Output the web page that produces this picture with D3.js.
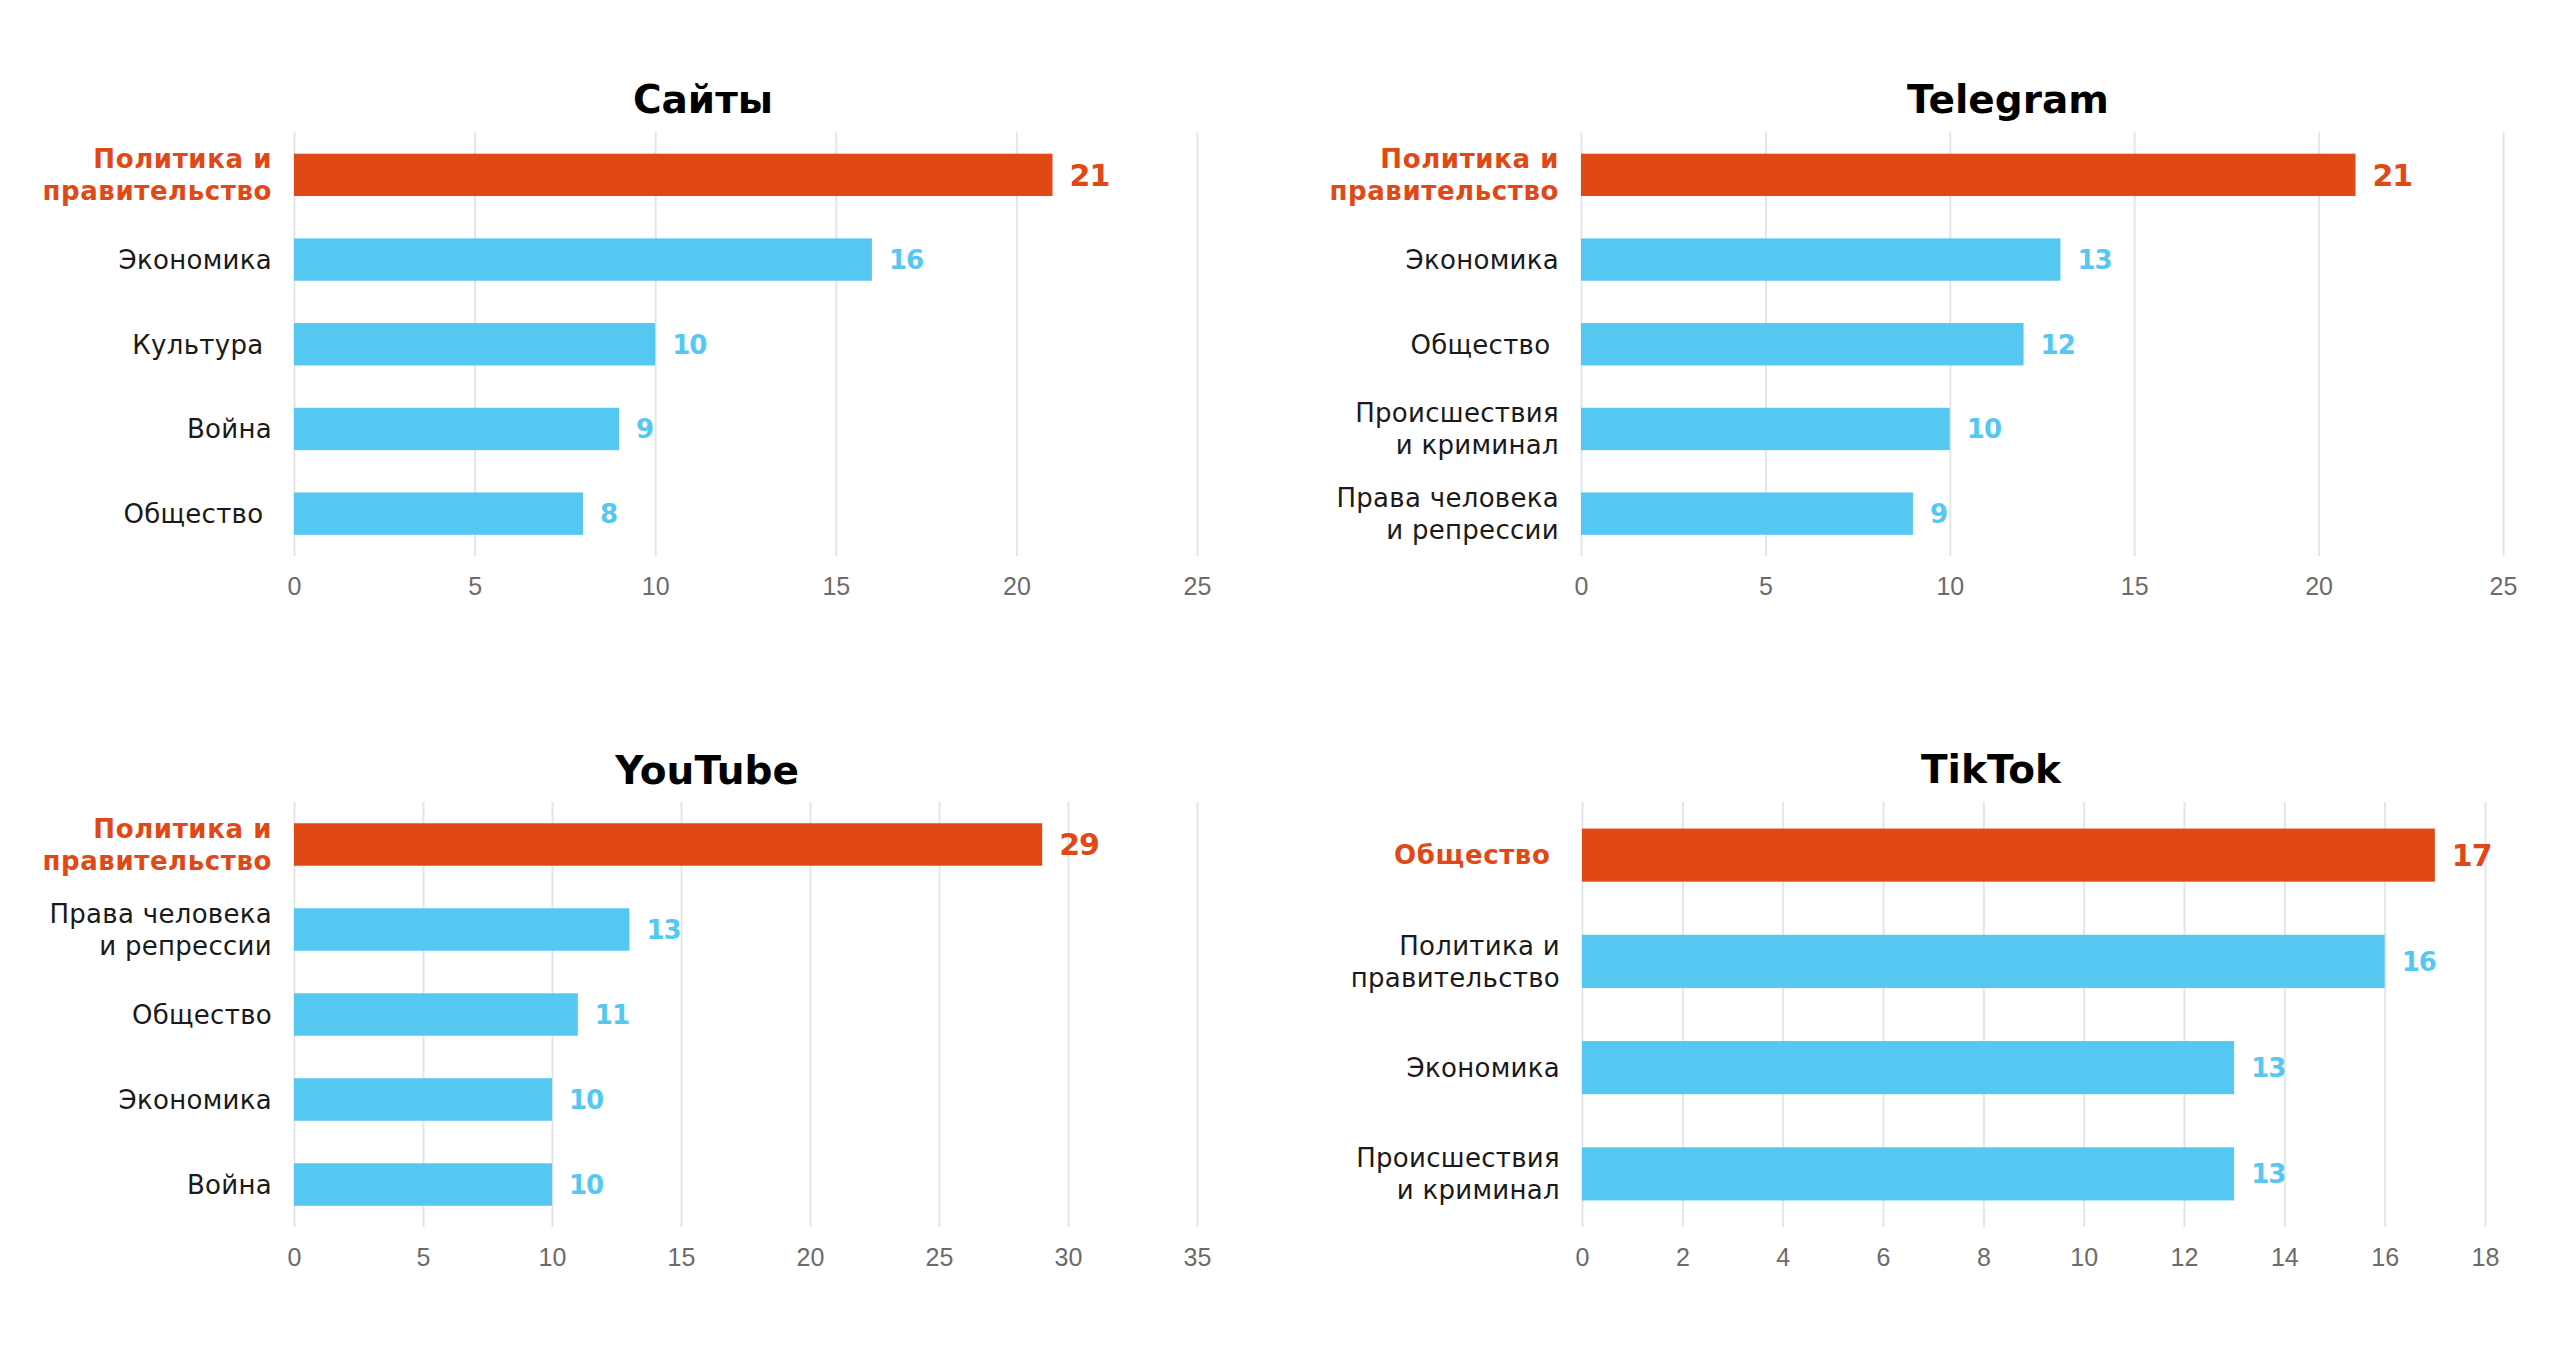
<!DOCTYPE html>
<html>
<head>
<meta charset="utf-8">
<script src="https://cdn.jsdelivr.net/npm/d3@7"></script>
<style>
  body { margin: 0; background: #fff; }
  svg { display: block; font-family: "DejaVu Sans", sans-serif; }
  .tick text { fill: #6b6b6b; font-size: 25px; }
  .tick line { stroke: #e2e5ec; stroke-width: 2; }
  .cat { white-space: pre; }
</style>
</head>
<body>
<div id="chart"></div>
<script>
// data, top item is the highlighted one in every panel
var sitesCats = ["Политика и\nправительство", "Экономика", "Культура ", "Война", "Общество "];
var sitesValues = [21, 16, 10, 9, 8];
var sitesTicks = [0, 5, 10, 15, 20, 25];

var telegramCats = ["Политика и\nправительство", "Экономика", "Общество ", "Происшествия\nи криминал", "Права человека\nи репрессии"];
var telegramValues = [21, 13, 12, 10, 9];
var telegramTicks = [0, 5, 10, 15, 20, 25];

var youtubeCats = ["Политика и\nправительство", "Права человека\nи репрессии", "Общество", "Экономика", "Война"];
var youtubeValues = [29, 13, 11, 10, 10];
var youtubeTicks = [0, 5, 10, 15, 20, 25, 30, 35];

var tiktokCats = ["Общество ", "Политика и\nправительство", "Экономика", "Происшествия\nи криминал"];
var tiktokValues = [17, 16, 13, 13];
var tiktokTicks = [0, 2, 4, 6, 8, 10, 12, 14, 16, 18];

var ORANGE = "#e04916", BLUE = "#55c8f2";

var svg = d3.select("#chart").append("svg")
    .attr("width", 2560).attr("height", 1359);

// panel boxes: x0..x1 is the value axis, top..bottom the grid
var panels = [
  {title: "Сайты", cats: sitesCats, values: sitesValues, ticks: sitesTicks,
   x0: 294, x1: 1197, top: 132.5, bottom: 556, titleX: 703, titleY: 113},
  {title: "Telegram", cats: telegramCats, values: telegramValues, ticks: telegramTicks,
   x0: 1581, x1: 2503, top: 132.5, bottom: 556, titleX: 2008, titleY: 113},
  {title: "YouTube", cats: youtubeCats, values: youtubeValues, ticks: youtubeTicks,
   x0: 294, x1: 1197, top: 802, bottom: 1227, titleX: 707, titleY: 784},
  {title: "TikTok", cats: tiktokCats, values: tiktokValues, ticks: tiktokTicks,
   x0: 1582, x1: 2485, top: 802, bottom: 1227, titleX: 1991, titleY: 783}
];

panels.forEach(drawPanel);

function drawPanel(p) {
    var g = svg.append("g");
    var x = d3.scaleLinear()
        .domain([p.ticks[0], p.ticks[p.ticks.length - 1]])
        .range([p.x0, p.x1]);
    var y = d3.scaleBand()
        .domain(d3.range(p.cats.length))
        .range([p.top, p.bottom])
        .paddingInner(0.5).paddingOuter(0.25);

    g.append("text")
        .attr("x", p.titleX).attr("y", p.titleY)
        .attr("text-anchor", "middle")
        .attr("font-size", 39).attr("font-weight", "bold")
        .attr("fill", "#000")
        .text(p.title);

    // grid + tick labels
    var axis = g.append("g")
        .attr("transform", "translate(0," + p.bottom + ")")
        .call(d3.axisBottom(x).tickValues(p.ticks)
            .tickSize(-(p.bottom - p.top)).tickPadding(21));
    axis.select(".domain").remove();
    axis.selectAll(".tick text").attr("font-family", null).attr("font-size", null)
        .style("font-weight", 300);

    var rows = p.values.map(function(v, i) { return {v: v, i: i, cat: p.cats[i]}; });

    g.selectAll("rect.bar").data(rows).enter().append("rect")
        .attr("class", "bar")
        .attr("x", x(0))
        .attr("y", function(d) { return y(d.i); })
        .attr("width", function(d) { return x(d.v) - x(0); })
        .attr("height", y.bandwidth())
        .attr("fill", function(d) { return d.i === 0 ? ORANGE : BLUE; });

    g.selectAll("text.val").data(rows).enter().append("text")
        .attr("class", "val")
        .attr("x", function(d) { return x(d.v) + 17; })
        .attr("y", function(d) {
            var fs = d.i === 0 ? 30 : 26;
            return y(d.i) + y.bandwidth() / 2 + fs * 0.36;
        })
        .attr("font-size", function(d) { return d.i === 0 ? 30 : 26; })
        .attr("font-weight", "bold")
        .attr("letter-spacing", -1)
        .attr("fill", function(d) { return d.i === 0 ? ORANGE : BLUE; })
        .text(function(d) { return d.v; });

    var lh = 32, fs = 26;
    var labels = g.selectAll("text.cat").data(rows).enter().append("text")
        .attr("class", "cat")
        .attr("text-anchor", "end")
        .attr("font-size", fs)
        .attr("letter-spacing", function(d) { return d.i === 0 ? 0.6 : 0.3; })
        .attr("font-weight", function(d) { return d.i === 0 ? "bold" : "normal"; })
        .attr("fill", function(d) { return d.i === 0 ? ORANGE : "#1a1a1a"; });

    labels.each(function(d) {
        var lines = d.cat.split("\n");
        var cy = y(d.i) + y.bandwidth() / 2;
        var t = d3.select(this);
        lines.forEach(function(line, k) {
            t.append("tspan")
                .attr("x", p.x0 - 22)
                .attr("y", cy + (k - (lines.length - 1) / 2) * lh + fs * 0.36)
                .text(line);
        });
    });
}
</script>
</body>
</html>
